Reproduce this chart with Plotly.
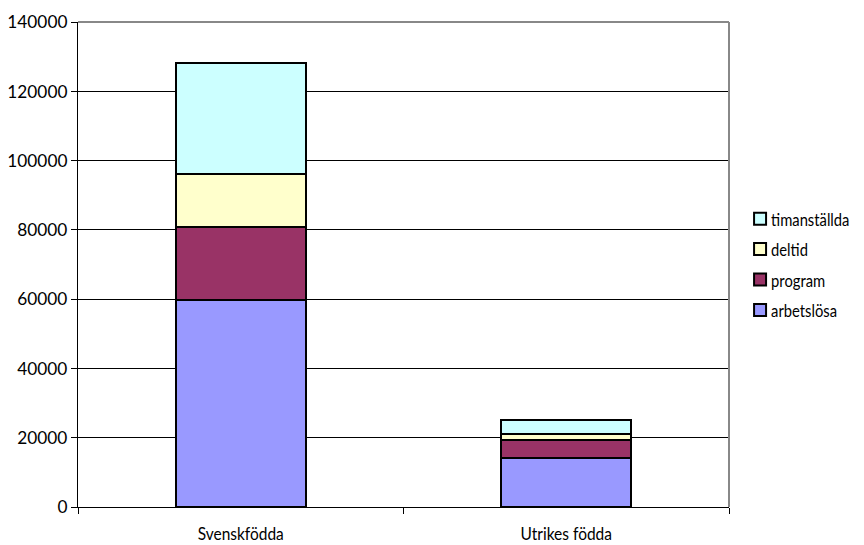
import plotly.graph_objects as go

categories = ["Svenskfödda", "Utrikes födda"]
series_names = ["arbetslösa", "program", "deltid", "timanställda"]
arbetslosa = [59700, 14200]
program = [21100, 5000]
deltid = [15400, 1900]
timanstallda = [32000, 4150]
y_ticks = [0, 20000, 40000, 60000, 80000, 100000, 120000, 140000]

colors = ["#9999FF", "#993366", "#FFFFCC", "#CCFFFF"]
values = [arbetslosa, program, deltid, timanstallda]
legend_ranks = [4, 3, 2, 1]

font_family = "Lato, Roboto, sans-serif"
fsize = 18

fig = go.Figure()
for name, vals, col, rank in zip(series_names, values, colors, legend_ranks):
    fig.add_trace(go.Bar(
        x=categories, y=vals, name=name, legendgroup=name, legendrank=rank,
        marker=dict(color=col, line=dict(color="black", width=2)),
        width=0.4,
    ))

# page body has an 8px margin; compensate
fig.update_layout(
    barmode="stack",
    width=856, height=537,
    paper_bgcolor="white", plot_bgcolor="white",
    margin=dict(l=70, r=135, t=14, b=38, autoexpand=False),
    font=dict(family=font_family, size=fsize, color="black"),
    legend=dict(
        traceorder="grouped",
        x=1.017, xanchor="left", y=0.5, yanchor="middle",
        font=dict(family=font_family, size=fsize, color="black"),
        itemwidth=30, tracegroupgap=4,
    ),
    showlegend=True,
)
fig.update_yaxes(
    range=[0, 140000], tickvals=y_ticks, ticktext=[str(v) for v in y_ticks],
    showgrid=True, gridcolor="black", gridwidth=1,
    showline=True, linecolor="black", linewidth=1,
    ticks="outside", ticklen=6, tickcolor="black",
    zeroline=False, mirror=False,
)
fig.update_xaxes(
    showline=True, linecolor="black", linewidth=1,
    ticks="outside", ticklen=6, tickcolor="black", tickson="boundaries",
    showgrid=False, ticklabelstandoff=10,
)
# gray plot-area border on top and right
fig.add_shape(type="line", xref="paper", yref="paper", x0=0, y0=1, x1=1, y1=1,
              line=dict(color="#888888", width=2))
fig.add_shape(type="line", xref="paper", yref="paper", x0=1, y0=0, x1=1, y1=1,
              line=dict(color="#888888", width=2))

# condense labels (the reference uses a narrow typeface) and pull legend text
# closer to its swatch, as in the reference
post = """
var gd = document.getElementById('{plot_id}');
function squeeze(sel, ratio){
  gd.querySelectorAll(sel).forEach(function(t){
    t.removeAttribute('textLength');
    var w = t.getComputedTextLength();
    t.setAttribute('textLength', (w*ratio).toFixed(1));
    t.setAttribute('lengthAdjust', 'spacingAndGlyphs');
  });
}
squeeze('.xtick text', 0.86);
squeeze('.ytick text', 0.96);
gd.querySelectorAll('.legendtext').forEach(function(t){ t.setAttribute('x', 31); });
squeeze('.legendtext', 0.82);
"""

fig.write_html("out.html", post_script=post)
